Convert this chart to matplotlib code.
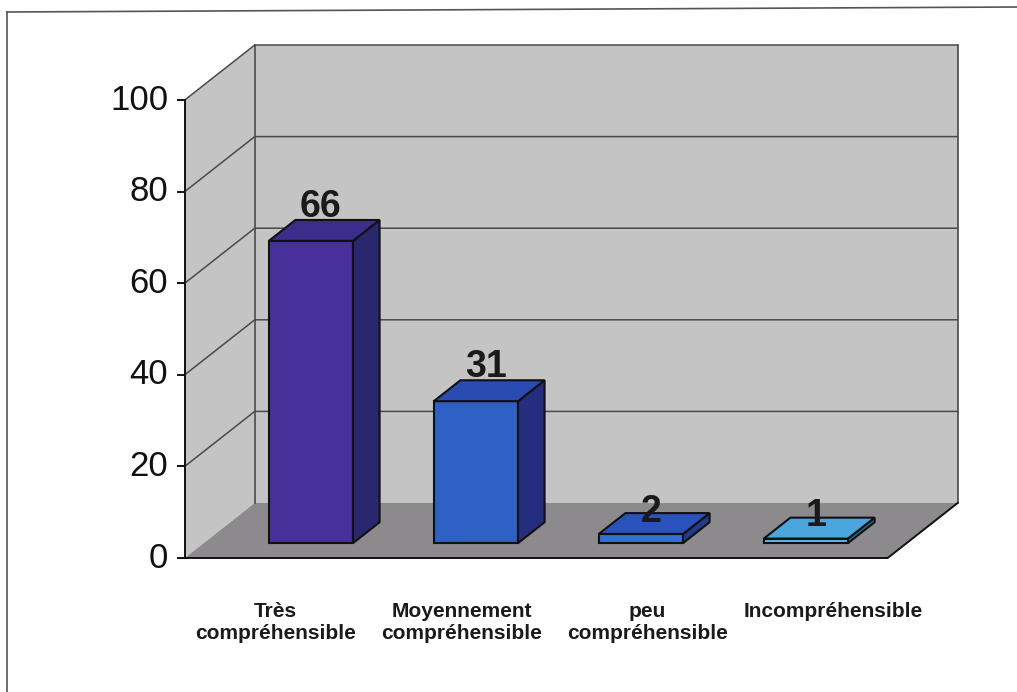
import matplotlib.pyplot as plt
from matplotlib.patches import Polygon
from matplotlib.lines import Line2D

plt.rcParams['font.family'] = ['Liberation Sans', 'DejaVu Sans']

categories = ['Très\ncompréhensible', 'Moyennement\ncompréhensible',
              'peu\ncompréhensible', 'Incompréhensible']
values = [66, 31, 2, 1]
y_ticks = [0, 20, 40, 60, 80, 100]

front_colors = ['#48309a', '#2f60c6', '#3470d4', '#5cbbe8']
top_colors = ['#3c2c8c', '#2a4cb2', '#2a52bc', '#4aa6dc']
side_colors = ['#2a276e', '#252e7e', '#26388c', '#2b6a90']

# fake 3d: depth d in [0, 1] shifts a point right and up
DX = 70 / 165.0
DY = 55 / 4.58
X_LO, X_HI = -0.65, 3.61
BAR_HALF = 0.255
D_FRONT, D_BACK = 0.27, 0.65


def pt(x, v, d):
    return (x + DX * d, v + DY * d)


def poly(ax, pts, fc, ec='none', lw=0, z=1):
    ax.add_patch(Polygon(pts, closed=True, facecolor=fc, edgecolor=ec,
                         linewidth=lw, zorder=z, joinstyle='miter'))


fig = plt.figure(figsize=(10.17, 6.92), dpi=100)
ax = fig.add_axes([0, 0, 1, 1])
ax.set_xlim(-292 / 165.0, (1017 - 292) / 165.0)
ax.set_ylim(558 / 4.58 - 692 / 4.58, 558 / 4.58)
ax.axis('off')

vmax = y_ticks[-1]
wall = '#c4c4c4'
floor = '#8c8a8c'
grid = '#4a4a4a'

# walls and floor
poly(ax, [pt(X_LO, 0, 0), pt(X_LO, vmax, 0), pt(X_LO, vmax, 1), pt(X_LO, 0, 1)], wall)
poly(ax, [pt(X_LO, 0, 1), pt(X_LO, vmax, 1), pt(X_HI, vmax, 1), pt(X_HI, 0, 1)], wall)
poly(ax, [pt(X_LO, 0, 0), pt(X_HI, 0, 0), pt(X_HI, 0, 1), pt(X_LO, 0, 1)], floor)

# gridlines: diagonal on the side wall, horizontal on the back wall
for t in y_ticks[1:]:
    a, b, c = pt(X_LO, t, 0), pt(X_LO, t, 1), pt(X_HI, t, 1)
    ax.plot([a[0], b[0], c[0]], [a[1], b[1], c[1]], color=grid, lw=1.1, zorder=2)

# back wall edges
for p, q in [(pt(X_LO, 0, 1), pt(X_LO, vmax, 1)),
             (pt(X_HI, 0, 1), pt(X_HI, vmax, 1))]:
    ax.plot([p[0], q[0]], [p[1], q[1]], color=grid, lw=1.2, zorder=2)

# floor front and right edges
a, b, c = pt(X_LO, 0, 0), pt(X_HI, 0, 0), pt(X_HI, 0, 1)
ax.plot([a[0], b[0], c[0]], [a[1], b[1], c[1]], color='#111111', lw=1.4, zorder=2)

# value axis
a, b = pt(X_LO, 0, 0), pt(X_LO, vmax, 0)
ax.plot([a[0], b[0]], [a[1], b[1]], color='#111111', lw=1.4, zorder=3)
for t in y_ticks:
    ax.plot([X_LO - 0.043, X_LO], [t, t], color='#111111', lw=1.4, zorder=3)
    ax.text(X_LO - 0.1, t, str(t), ha='right', va='center', fontsize=25,
            color='#111111')

# bars
for i, v in enumerate(values):
    x0, x1 = i - BAR_HALF, i + BAR_HALF
    front = [pt(x0, 0, D_FRONT), pt(x1, 0, D_FRONT), pt(x1, v, D_FRONT), pt(x0, v, D_FRONT)]
    side = [pt(x1, 0, D_FRONT), pt(x1, 0, D_BACK), pt(x1, v, D_BACK), pt(x1, v, D_FRONT)]
    top = [pt(x0, v, D_FRONT), pt(x1, v, D_FRONT), pt(x1, v, D_BACK), pt(x0, v, D_BACK)]
    poly(ax, front, front_colors[i], '#111111', 1.5, 4)
    poly(ax, side, side_colors[i], '#111111', 1.5, 4)
    poly(ax, top, top_colors[i], '#111111', 1.5, 4)

    # value label above the top face; flat bars get it sitting on the top face
    lx = pt(i, v, (D_FRONT + D_BACK) / 2)[0] - 0.02
    ly = v + DY * D_BACK + 0.7 if v >= 5 else v + 5.9
    ax.text(lx, ly, str(v), ha='center', va='baseline', fontsize=27,
            fontweight='bold', color='#1a1a1a', zorder=5)

# category labels, spread a little wider than the bars
for i, name in enumerate(categories):
    ax.text(-0.1 + 1.127 * i, -9.6, name, ha='center', va='top',
            fontsize=15, fontweight='bold', color='#1a1a1a', linespacing=1.22)

# outer frame (left and top edges)
fig.add_artist(Line2D([7 / 1017, 7 / 1017], [0, 1 - 12 / 692],
                      color='#555555', lw=1.2))
fig.add_artist(Line2D([7 / 1017, 1], [1 - 12 / 692, 1 - 7 / 692],
                      color='#555555', lw=1.2))

fig.savefig('out.png', dpi=100)
